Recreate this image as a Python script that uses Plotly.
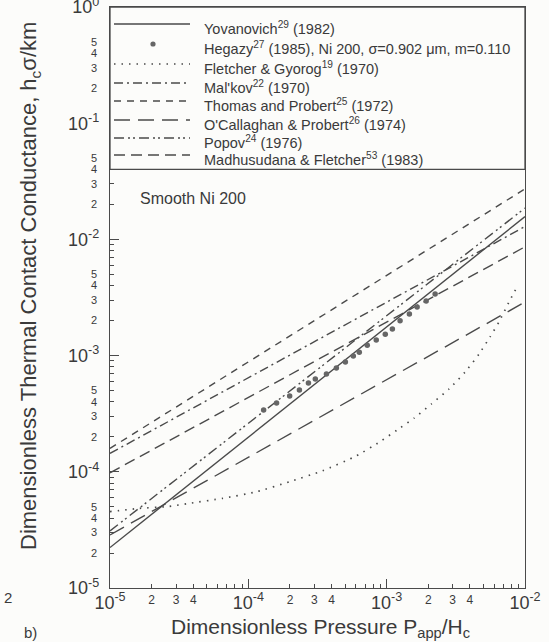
import math
import plotly.graph_objects as go

# ---------------- data ----------------
P_ends = [1e-5, 1e-2]                      # straight power-law correlations, end points
yovanovich_h = [2.23e-5, 1.57e-2]
malkov_h = [1.44e-4, 1.29e-2]
thomas_h = [1.59e-4, 2.72e-2]
ocallaghan_h = [2.86e-5, 2.89e-3]
popov_h = [3.10e-5, 1.86e-2]
madhusudana_h = [9.8e-5, 8.64e-3]

fletcher_P = [1.0e-5, 1.64e-5, 2.58e-5, 3.78e-5, 6.53e-5, 1.15e-4, 1.99e-4, 3.44e-4,
              6.04e-4, 8.85e-4, 1.19e-3, 1.58e-3, 2.10e-3, 2.83e-3, 3.69e-3, 4.65e-3,
              5.59e-3, 6.49e-3, 7.66e-3, 8.75e-3]
fletcher_h = [4.54e-5, 4.85e-5, 5.01e-5, 5.36e-5, 5.91e-5, 6.74e-5, 8.22e-5, 1.02e-4,
              1.37e-4, 1.80e-4, 2.29e-4, 2.90e-4, 3.83e-4, 5.16e-4, 7.23e-4, 1.03e-3,
              1.45e-3, 1.95e-3, 2.89e-3, 3.89e-3]

hegazy_P = [1.29e-4, 1.60e-4, 1.99e-4, 2.34e-4, 2.72e-4, 3.05e-4, 3.67e-4, 4.33e-4,
            5.03e-4, 5.74e-4, 6.34e-4, 7.24e-4, 8.41e-4, 9.77e-4, 1.10e-3, 1.25e-3,
            1.46e-3, 1.66e-3, 1.93e-3, 2.24e-3]
hegazy_h = [3.40e-4, 3.91e-4, 4.49e-4, 5.06e-4, 5.81e-4, 6.29e-4, 6.95e-4, 7.82e-4,
            8.81e-4, 9.93e-4, 1.07e-3, 1.23e-3, 1.36e-3, 1.53e-3, 1.69e-3, 1.99e-3,
            2.28e-3, 2.62e-3, 2.95e-3, 3.39e-3]

legend_labels = [
    "Yovanovich<sup>29</sup> (1982)",
    "Hegazy<sup>27</sup> (1985), Ni 200, σ=0.902 μm, m=0.110",
    "Fletcher & Gyorog<sup>19</sup> (1970)",
    "Mal'kov<sup>22</sup> (1970)",
    "Thomas and Probert<sup>25</sup> (1972)",
    "O'Callaghan & Probert<sup>26</sup> (1974)",
    "Popov<sup>24</sup> (1976)",
    "Madhusudana & Fletcher<sup>53</sup> (1983)",
]

x_decades = [-5, -4, -3, -2]
y_decades = [-5, -4, -3, -2, -1, 0]
x_minor_labels = [2, 3, 4]
y_minor_labels = [2, 3, 4, 5]
legend_floor = 0.04

# ---------------- styling ----------------
FONT = "Liberation Sans, Arial, sans-serif"
INK = "#3a3a3a"
LINE = "#4a4a4a"
BG = "#fcfcfa"
W, H = 549, 642
L, R, T, B = 110, 24, 7, 54
PW, PH = W - L - R, H - T - B

styles = {
    "yov": dict(color=LINE, width=1.4, dash="solid"),
    "fle": dict(color=LINE, width=1.7, dash="1.5px,6px", shape="spline", smoothing=0.5),
    "mal": dict(color=LINE, width=1.4, dash="9px,4px,2px,4px"),
    "tho": dict(color=LINE, width=1.4, dash="7px,6px"),
    "oca": dict(color=LINE, width=1.4, dash="16px,8px"),
    "pop": dict(color=LINE, width=1.4, dash="10px,4px,2px,3px,2px,4px"),
    "mad": dict(color=LINE, width=1.4, dash="11px,6px"),
}

fig = go.Figure()

def add_line(x, y, key):
    fig.add_trace(go.Scatter(x=x, y=y, mode="lines", line=styles[key],
                             showlegend=False, hoverinfo="skip"))

add_line(fletcher_P, fletcher_h, "fle")
add_line(P_ends, thomas_h, "tho")
add_line(P_ends, malkov_h, "mal")
add_line(P_ends, madhusudana_h, "mad")
add_line(P_ends, ocallaghan_h, "oca")
add_line(P_ends, popov_h, "pop")
add_line(P_ends, yovanovich_h, "yov")
fig.add_trace(go.Scatter(x=hegazy_P, y=hegazy_h, mode="markers",
                         marker=dict(color="#666666", size=5.5), showlegend=False,
                         hoverinfo="skip"))
# anchor trace for the overlay axes carrying the small tick labels
fig.add_trace(go.Scatter(x=[P_ends[0]], y=[yovanovich_h[0]], xaxis="x2", yaxis="y2",
                         mode="markers", marker=dict(opacity=0), showlegend=False,
                         hoverinfo="skip"))

def sup_label(e):
    return "10<sup>%d</sup>" % e

x_minor_ticks = [m * 10.0 ** e for e in x_decades[:-1] for m in range(2, 10)]
y_minor_ticks = [m * 10.0 ** e for e in y_decades[:-1] for m in range(2, 10)]

axis_common = dict(type="log", showgrid=False, zeroline=False, showline=True,
                   linecolor=LINE, linewidth=1.3, mirror=True, ticks="inside",
                   ticklen=9, tickwidth=1.1, tickcolor=LINE, ticklabeloverflow="allow",
                   automargin=False, tickfont=dict(family=FONT, size=18, color=INK))

fig.update_layout(
    width=W, height=H, margin=dict(l=L, r=R, t=T, b=B, autoexpand=False),
    paper_bgcolor=BG, plot_bgcolor=BG, showlegend=False,
    xaxis=dict(axis_common, range=[-5, -2],
               tickvals=[10.0 ** e for e in x_decades],
               ticktext=[sup_label(e) for e in x_decades], ticklabelstandoff=-2,
               minor=dict(ticks="inside", ticklen=4, tickcolor=LINE, tickvals=x_minor_ticks)),
    yaxis=dict(axis_common, range=[-5, 0],
               tickvals=[10.0 ** e for e in y_decades],
               ticktext=[sup_label(e) for e in y_decades], ticklabelstandoff=6,
               minor=dict(ticks="inside", ticklen=4, tickcolor=LINE, tickvals=y_minor_ticks)),
    xaxis2=dict(type="log", range=[-5, -2], overlaying="x", anchor="y", side="bottom",
                showgrid=False, zeroline=False, showline=False, ticks="", automargin=False,
                tickvals=[m * 10.0 ** e for e in x_decades[:-1] for m in x_minor_labels],
                ticktext=[str(m) for e in x_decades[:-1] for m in x_minor_labels],
                tickfont=dict(family=FONT, size=12, color=INK), ticklabelstandoff=3),
    yaxis2=dict(type="log", range=[-5, 0], overlaying="y", anchor="x", side="left",
                showgrid=False, zeroline=False, showline=False, ticks="", automargin=False,
                tickvals=[m * 10.0 ** e for e in y_decades[:-1] for m in y_minor_labels],
                ticktext=[str(m) for e in y_decades[:-1] for m in y_minor_labels],
                tickfont=dict(family=FONT, size=11, color=INK), ticklabelstandoff=12),
)

# ---------------- legend box (inside the plot, top) ----------------
def dx(px):
    return (px - L) / PW

def dy(py):
    return (T + PH - py) / PH

floor_dom = (math.log10(legend_floor) + 5) / 5
shapes = [dict(type="rect", xref="x domain", yref="y domain", x0=0, x1=1,
               y0=floor_dom, y1=1, fillcolor=BG, line=dict(color=LINE, width=1.3),
               layer="above")]
keys = ["yov", None, "fle", "mal", "tho", "oca", "pop", "mad"]
row_y = [24, 44, 64, 83, 101, 120, 138, 155]
annotations = []
for k, ry, lab in zip(keys, row_y, legend_labels):
    if k is None:
        r = 2.6
        shapes.append(dict(type="circle", xref="x domain", yref="y domain",
                           x0=dx(153 - r), x1=dx(153 + r), y0=dy(ry + r), y1=dy(ry - r),
                           fillcolor="#666666", line=dict(width=0), layer="above"))
    else:
        st = {kk: vv for kk, vv in styles[k].items() if kk in ("color", "width", "dash")}
        shapes.append(dict(type="line", xref="x domain", yref="y domain",
                           x0=dx(114), x1=dx(190), y0=dy(ry), y1=dy(ry),
                           line=st, layer="above"))
    annotations.append(dict(text=lab, xref="x domain", yref="y domain",
                            x=dx(202), y=dy(ry + 4), xanchor="left", yanchor="middle",
                            showarrow=False, font=dict(family=FONT, size=14.5, color=INK)))

annotations += [
    dict(text="Smooth Ni 200", xref="x domain", yref="y domain", x=dx(138), y=dy(198),
         xanchor="left", yanchor="middle", showarrow=False,
         font=dict(family=FONT, size=16, color=INK)),
    dict(text="Dimensionless Thermal Contact Conductance, h<sub>c</sub>σ/km",
         xref="x domain", yref="y domain", x=dx(30), y=dy(286), textangle=-90,
         xanchor="center", yanchor="middle", showarrow=False,
         font=dict(family=FONT, size=22, color=INK)),
    dict(text="Dimensionless Pressure P<sub>app</sub>/H<sub>c</sub>",
         xref="x domain", yref="y domain", x=dx(320), y=dy(628),
         xanchor="center", yanchor="middle", showarrow=False,
         font=dict(family=FONT, size=21, color=INK)),
    dict(text="b)", xref="x domain", yref="y domain", x=dx(30), y=dy(632),
         xanchor="center", yanchor="middle", showarrow=False,
         font=dict(family=FONT, size=15, color=INK)),
    dict(text="2", xref="x domain", yref="y domain", x=dx(8), y=dy(597),
         xanchor="center", yanchor="middle", showarrow=False,
         font=dict(family=FONT, size=15, color=INK)),
]
fig.update_layout(shapes=shapes, annotations=annotations)

fig.write_html("out.html")
